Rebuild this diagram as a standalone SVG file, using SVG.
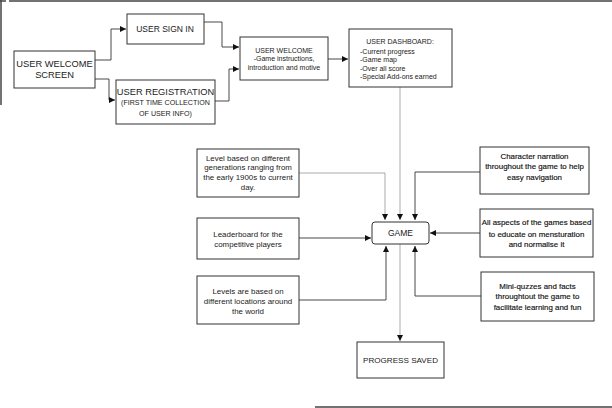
<svg xmlns="http://www.w3.org/2000/svg" width="612" height="408" viewBox="0 0 612 408">
<style>
.box{fill:#fff;stroke:#333;stroke-width:1}
.c{fill:none;stroke:#333;stroke-width:0.9}
.cl{fill:none;stroke:#888;stroke-width:0.7}
.t{font-family:"Liberation Sans",Arial,sans-serif;fill:#222;text-anchor:middle}
.st{font-family:"Liberation Sans",Arial,sans-serif;fill:#222;text-anchor:start}
.s{font-size:7px}
.n{font-size:7.9px}
.m{font-size:8.5px}
.l{font-size:9.3px}
.b{fill:#111;stroke:#111;stroke-width:0.15}
</style>
<defs>
<marker id="a" markerWidth="8" markerHeight="8" refX="6" refY="3" orient="auto" markerUnits="userSpaceOnUse">
<path d="M0,0 L6,3 L0,6 Z" fill="#111"/>
</marker>
</defs>
<rect width="612" height="408" fill="#fff"/>
<g id="frame" fill="none" stroke="#444" stroke-width="1.5">
<line x1="9" y1="1" x2="612" y2="1"/>
<line x1="0" y1="1" x2="6" y2="1"/>
<line x1="1" y1="0" x2="1" y2="105"/>
<line x1="315" y1="407" x2="612" y2="407"/>
</g>
<g id="connectors">
<path class="c" d="M95,60 H111 V29 H126" marker-end="url(#a)"/>
<path class="c" d="M95,79 H109 V100 H115" marker-end="url(#a)"/>
<path class="c" d="M204,22 H222 V47 H239" marker-end="url(#a)"/>
<path class="c" d="M215,101 H229 V69 H239" marker-end="url(#a)"/>
<path class="c" d="M328,59 H348" marker-end="url(#a)"/>
<path class="cl" d="M400,87 V220" marker-end="url(#a)"/>
<path class="cl" d="M299,173 H385 V220" marker-end="url(#a)"/>
<path class="c" d="M480,172 H415 V220" marker-end="url(#a)"/>
<path class="c" d="M299,238 H371" marker-end="url(#a)"/>
<path class="c" d="M480,233 H430" marker-end="url(#a)"/>
<path class="c" d="M299,300 H386 V246" marker-end="url(#a)"/>
<path class="c" d="M481,296 H415 V246" marker-end="url(#a)"/>
<path class="cl" d="M400,244 V341" marker-end="url(#a)"/>
</g>
<g id="welcome-screen">
<rect class="box" x="14" y="51" width="81" height="37"/>
<text class="t l" x="54.5" y="67">USER WELCOME</text>
<text class="t l" x="54.5" y="78">SCREEN</text>
</g>
<g id="sign-in">
<rect class="box" x="127" y="14" width="77" height="30"/>
<text class="t m" x="165" y="32">USER SIGN IN</text>
</g>
<g id="registration">
<rect class="box" x="116" y="80" width="99" height="44"/>
<text class="t l" x="165.5" y="94.5">USER REGISTRATION</text>
<text class="t" x="165.5" y="105" font-size="7.1">(FIRST TIME COLLECTION</text>
<text class="t" x="165.5" y="116" font-size="7.1">OF USER INFO)</text>
</g>
<g id="user-welcome">
<rect class="box" x="240" y="37" width="88" height="43"/>
<text class="t s" x="284" y="53">USER WELCOME</text>
<text class="t s" x="284" y="61">-Game instructions,</text>
<text class="t s" x="284" y="69.5">introduction and motive</text>
</g>
<g id="dashboard">
<rect class="box" x="349" y="29" width="103" height="58"/>
<text class="t s" x="400" y="44">USER DASHBOARD:</text>
<text class="st s" x="360" y="53.5">-Current progress</text>
<text class="st s" x="360" y="62">-Game map</text>
<text class="st s" x="360" y="70.5">-Over all score</text>
<text class="st s" x="360" y="79">-Special Add-ons earned</text>
</g>
<g id="generations">
<rect class="box" x="197" y="149" width="102" height="48"/>
<text class="t n" x="248" y="160.5">Level based on different</text>
<text class="t n" x="248" y="170">generations ranging from</text>
<text class="t n" x="248" y="180">the early 1900s to current</text>
<text class="t n" x="248" y="190">day.</text>
</g>
<g id="leaderboard">
<rect class="box" x="197" y="218" width="102" height="41"/>
<text class="t n" x="248" y="236.5">Leaderboard for the</text>
<text class="t n" x="248" y="246.5">competitive players</text>
</g>
<g id="locations">
<rect class="box" x="197" y="276" width="102" height="48"/>
<text class="t n" x="248" y="293.5">Levels are based on</text>
<text class="t n" x="248" y="303.5">different locations around</text>
<text class="t n" x="248" y="313.5">the world</text>
</g>
<g id="narration">
<rect class="box" x="480" y="147" width="109" height="47"/>
<text class="t n b" x="534.5" y="158.5">Character narration</text>
<text class="t n b" x="534.5" y="168.5">throughout the game to help</text>
<text class="t n b" x="534.5" y="179.5">easy navigation</text>
</g>
<g id="mensturation">
<rect class="box" x="480" y="209" width="113" height="48"/>
<text class="t n b" x="536.5" y="224.5">All aspects of the games based</text>
<text class="t n b" x="536.5" y="236.5">to educate on mensturation</text>
<text class="t n b" x="536.5" y="246.5">and normalise it</text>
</g>
<g id="quizzes">
<rect class="box" x="481" y="272" width="113" height="49"/>
<text class="t n b" x="537.5" y="288.5">Mini-quzzes and facts</text>
<text class="t n b" x="537.5" y="298.5">throughtout the game to</text>
<text class="t n b" x="537.5" y="309.5">facilitate learning and fun</text>
</g>
<g id="game">
<rect class="box" x="372" y="222" width="57" height="22" rx="3"/>
<text class="t m" x="400.5" y="236">GAME</text>
</g>
<g id="progress-saved">
<rect class="box" x="357" y="342" width="87" height="36"/>
<text class="t" x="400.5" y="363" font-size="8.1">PROGRESS SAVED</text>
</g>
</svg>
